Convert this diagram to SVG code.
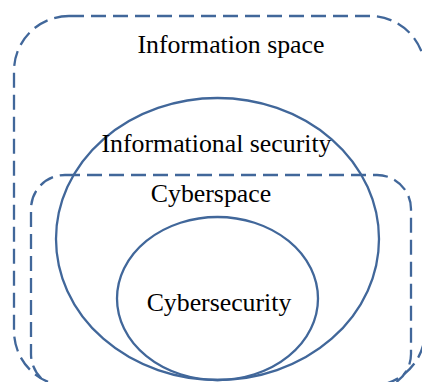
<svg xmlns="http://www.w3.org/2000/svg" width="422" height="382" viewBox="0 0 422 382">
<style>
.dash{fill:none;stroke:#41679a;stroke-width:2.3;stroke-dasharray:15 7}
.ring{fill:none;stroke:#41679a;stroke-width:2.3}
text{font-family:"Liberation Serif","Times New Roman",serif;font-size:25.8px;fill:#000;text-anchor:middle}
</style>
<rect width="422" height="382" fill="#fff"/>
<g id="information-space">
<rect class="dash" x="14" y="16" width="411" height="370" rx="55" ry="55"/>
<text x="231" y="53">Information space</text>
</g>
<g id="cyberspace">
<rect class="dash" x="31" y="175" width="380" height="213" rx="34" ry="34"/>
<text x="211" y="202">Cyberspace</text>
</g>
<g id="informational-security">
<ellipse class="ring" cx="217.5" cy="239" rx="161.5" ry="141"/>
<text x="216.5" y="152">Informational security</text>
</g>
<g id="cybersecurity">
<ellipse class="ring" cx="217.5" cy="298.5" rx="100.5" ry="81.5"/>
<text x="219" y="311">Cybersecurity</text>
</g>
<g id="connectors"/>
</svg>
